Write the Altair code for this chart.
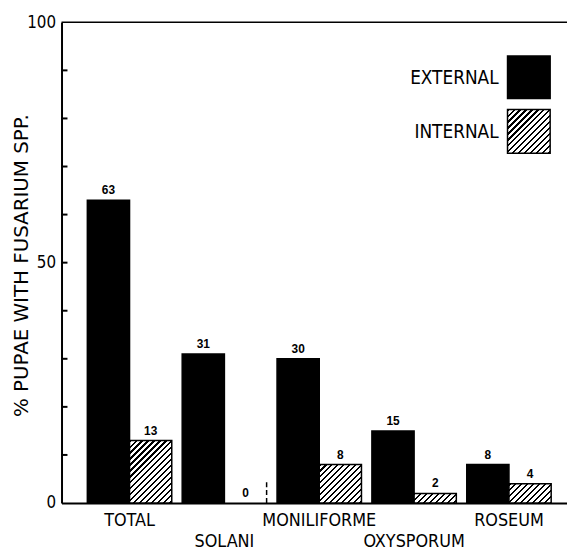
import altair as alt
import pandas as pd

categories = ["TOTAL", "SOLANI", "MONILIFORME", "OXYSPORUM", "ROSEUM"]
external = [63, 31, 30, 15, 8]
internal = [13, 0, 8, 2, 4]
series = ["EXTERNAL", "INTERNAL"]
y_major = [0, 50, 100]
y_minor = [10, 20, 30, 40, 50, 60, 70, 80, 90]
y_title = "% PUPAE WITH FUSARIUM SPP."
second_row = ["SOLANI", "OXYSPORUM"]
zero_mark_height = [4.5]

W, H = 510, 485
P_IN, P_OUT, ALIGN = 0.11, 0.2195, 0.62
COND = "DejaVu Sans Condensed, DejaVu Sans, sans-serif"
WIDE = "DejaVu Sans, sans-serif"

rows = []
for c, e, i in zip(categories, external, internal):
    rows.append({"cat": c, "series": "EXTERNAL", "value": e})
    rows.append({"cat": c, "series": "INTERNAL", "value": i})
df = pd.DataFrame(rows)

step = W / (len(categories) - P_IN + 2 * P_OUT)
bar_w = step * (1 - P_IN) / 2


def hatch(w, h, period=6.0, frac=0.38):
    w = max(w, 1.0)
    h = max(h, 1.0)
    s = (w + h) * w / (w * w + h * h)
    n = (w + h) / period
    stops = []
    i = 0
    while i < n:
        a = i / n
        b = min((i + frac) / n, 1.0)
        c = min((i + 1) / n, 1.0)
        stops += [
            {"color": "black", "offset": a},
            {"color": "black", "offset": b},
            {"color": "white", "offset": b},
            {"color": "white", "offset": c},
        ]
        i += 1
    return {"gradient": "linear", "x1": 0, "y1": 0, "x2": s, "y2": s * h / w, "stops": stops}


xscale = alt.Scale(domain=categories, paddingInner=P_IN, paddingOuter=P_OUT, align=ALIGN)
xoff = alt.XOffset("series:N", scale=alt.Scale(domain=series, paddingInner=0, paddingOuter=0))
yscale = alt.Scale(domain=[0, 100], nice=False, zero=True)

label_expr = "indexof(" + str(second_row) + ", datum.label) >= 0 ? ['', datum.label] : datum.label"

x_axis = alt.Axis(
    title=None, ticks=False, domain=True, domainColor="black", domainWidth=2, grid=False,
    labelAngle=0, labelFont=COND, labelFontSize=18, labelColor="black",
    labelPadding=9, labelBaseline="top", labelLineHeight=21, labelOverlap=False,
    labelExpr=label_expr,
)
y_axis = alt.Axis(
    values=y_major, ticks=False, grid=False, domain=True, domainColor="black", domainWidth=2,
    labelFont=COND, labelFontSize=17, labelColor="black", labelPadding=6,
    labelFlush=False, labelBaseline="middle",
    title=y_title, titleFont=WIDE, titleFontSize=20,
    titleFontWeight="normal", titleColor="black", titleX=-40, titleY=245,
    titleBaseline="middle", titleAlign="center",
)

X = alt.X("cat:N", scale=xscale, axis=x_axis, sort=categories)
Y = alt.Y("value:Q", scale=yscale, axis=y_axis)

base = alt.Chart(df)

ext_bars = base.transform_filter(alt.datum.series == "EXTERNAL").mark_bar(
    fill="black", stroke="black", strokeWidth=1.5
).encode(x=X, xOffset=xoff, y=Y)

int_layers = []
for c, v in zip(categories, internal):
    if v <= 0:
        continue
    g = hatch(bar_w, v * H / 100.0)
    int_layers.append(
        base.transform_filter((alt.datum.series == "INTERNAL") & (alt.datum.cat == c))
        .mark_bar(fill=g, stroke="black", strokeWidth=1.5)
        .encode(x=X, xOffset=xoff, y=Y)
    )

value_labels = base.mark_text(
    baseline="bottom", dy=-3, font="Liberation Sans, sans-serif", fontSize=12,
    fontWeight="bold", color="black"
).encode(x=X, xOffset=xoff, y=Y, text="value:Q")

top_rule = alt.Chart(pd.DataFrame({"value": [100]})).mark_rule(color="black", strokeWidth=1.5).encode(y=Y)

zero_mark = alt.Chart(pd.DataFrame({"cat": ["SOLANI"], "value": [0], "hi": zero_mark_height})).mark_rule(
    color="black", strokeWidth=1.5, strokeDash=[5, 3]
).encode(
    x=alt.X("cat:N", scale=xscale, axis=x_axis, sort=categories, bandPosition=1),
    y=Y,
    y2="hi:Q",
)

minor = alt.Chart(pd.DataFrame({"value": y_minor})).mark_rule(color="black", strokeWidth=2).encode(
    y=Y, x=alt.value(0), x2=alt.value(6)
)

leg = pd.DataFrame({"label": series})
leg_ext_box = alt.Chart(leg).transform_filter(alt.datum.label == "EXTERNAL").mark_rect(
    fill="black", stroke="black", strokeWidth=1.5
).encode(x=alt.value(450), x2=alt.value(493), y=alt.value(34), y2=alt.value(77))
leg_int_box = alt.Chart(leg).transform_filter(alt.datum.label == "INTERNAL").mark_rect(
    fill=hatch(43, 44), stroke="black", strokeWidth=1.5
).encode(x=alt.value(450), x2=alt.value(493), y=alt.value(88), y2=alt.value(132))
leg_ext_txt = alt.Chart(leg).transform_filter(alt.datum.label == "EXTERNAL").mark_text(
    align="right", baseline="middle", font=COND, fontSize=19, color="black"
).encode(x=alt.value(441), y=alt.value(56), text="label:N")
leg_int_txt = alt.Chart(leg).transform_filter(alt.datum.label == "INTERNAL").mark_text(
    align="right", baseline="middle", font=COND, fontSize=19, color="black"
).encode(x=alt.value(441), y=alt.value(111), text="label:N")

chart = alt.layer(
    ext_bars, *int_layers, value_labels, top_rule, zero_mark, minor,
    leg_ext_box, leg_int_box, leg_ext_txt, leg_int_txt,
).properties(
    width=W, height=H,
    autosize=alt.AutoSizeParams(type="none"),
    padding={"left": 54, "top": 12, "right": 0, "bottom": 47},
    background="white",
).configure_view(stroke=None)

chart.save("out.html", embed_options={"renderer": "svg", "actions": False})
